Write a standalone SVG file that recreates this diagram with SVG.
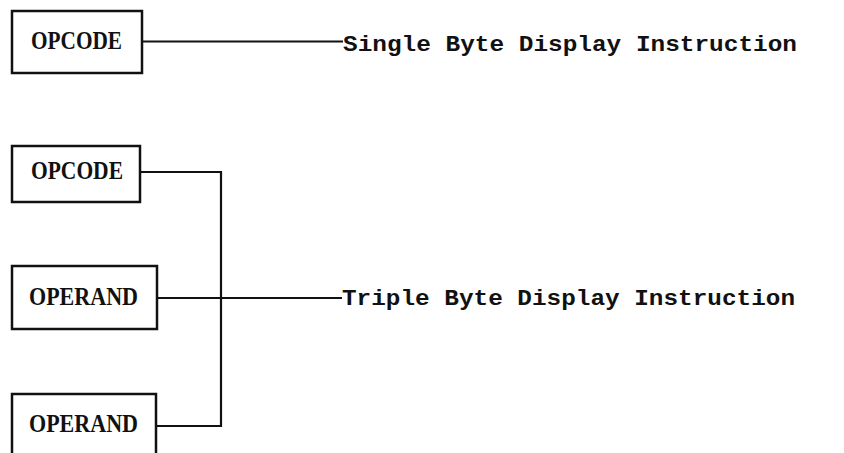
<svg xmlns="http://www.w3.org/2000/svg" width="844" height="453" viewBox="0 0 844 453">
<style>
.box{fill:#fff;stroke:#111;stroke-width:2.5}
.lbl{font-family:"Liberation Serif",serif;font-weight:bold;font-size:24.5px;fill:#111}
.cap{font-family:"Liberation Mono",monospace;font-weight:bold;font-size:22.5px;fill:#111}
.wire{fill:none;stroke:#111;stroke-width:2.2}
</style>
<rect width="844" height="453" fill="#fff"/>
<g id="connectors">
<path class="wire" d="M142 41.5H343"/>
<path class="wire" d="M140 172H221V426H156"/>
<path class="wire" d="M157 298H342"/>
</g>
<g id="opcode1">
<rect class="box" x="12" y="11" width="130" height="62"/>
<text class="lbl" x="31" y="49" textLength="91" lengthAdjust="spacingAndGlyphs">OPCODE</text>
</g>
<g id="opcode2">
<rect class="box" x="12" y="146" width="128" height="56"/>
<text class="lbl" x="31" y="179" textLength="92" lengthAdjust="spacingAndGlyphs">OPCODE</text>
</g>
<g id="operand1">
<rect class="box" x="12" y="266" width="145" height="63"/>
<text class="lbl" x="29" y="305" textLength="109" lengthAdjust="spacingAndGlyphs">OPERAND</text>
</g>
<g id="operand2">
<rect class="box" x="12" y="394" width="144" height="70"/>
<text class="lbl" x="29" y="432" textLength="109" lengthAdjust="spacingAndGlyphs">OPERAND</text>
</g>
<g id="single">
<text class="cap" x="343" y="50.5" textLength="454" lengthAdjust="spacingAndGlyphs">Single Byte Display Instruction</text>
</g>
<g id="triple">
<text class="cap" x="342" y="305" textLength="453" lengthAdjust="spacingAndGlyphs">Triple Byte Display Instruction</text>
</g>
</svg>
